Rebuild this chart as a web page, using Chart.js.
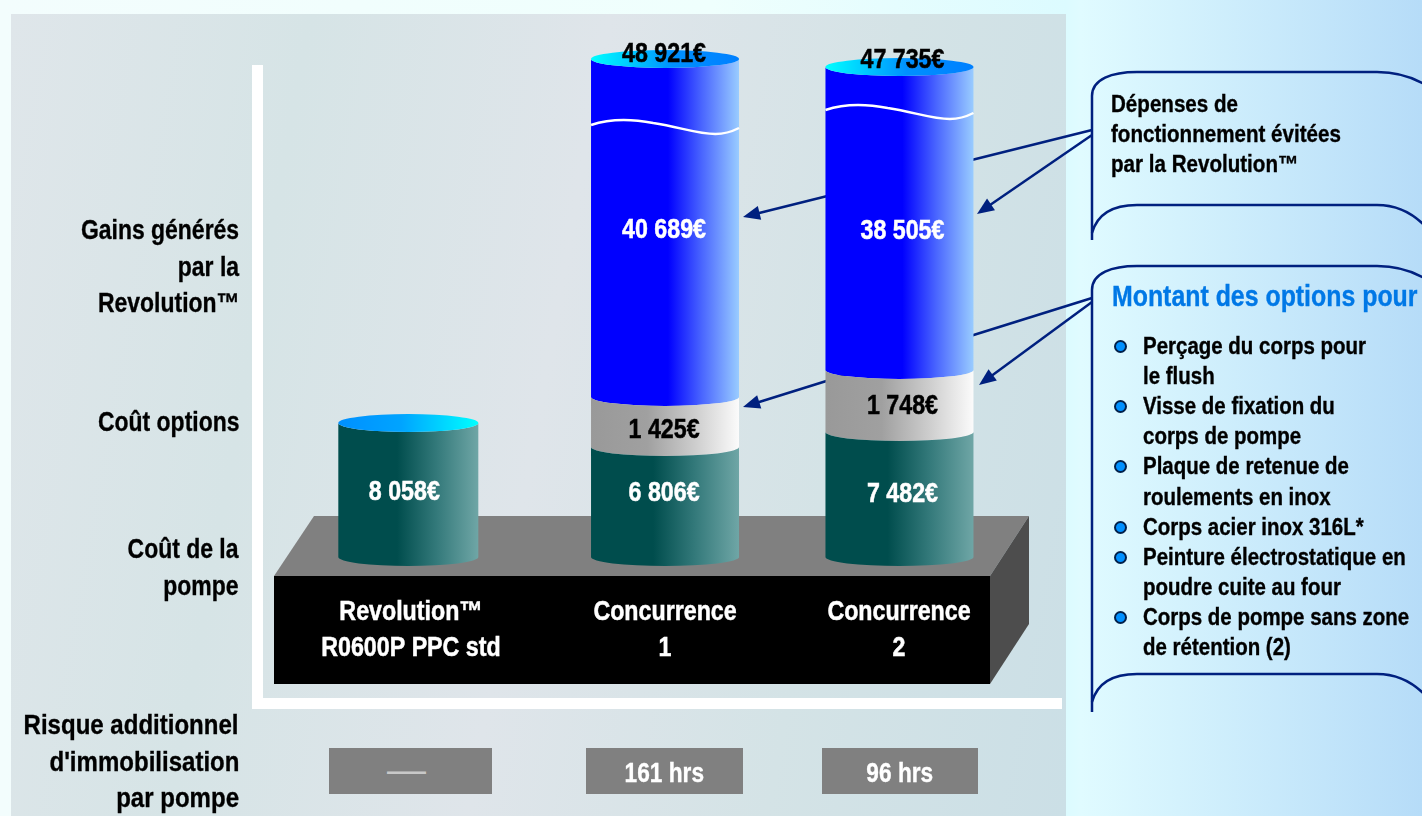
<!DOCTYPE html>
<html lang="fr">
<head>
<meta charset="utf-8">
<script src="https://cdn.jsdelivr.net/npm/chart.js@4"></script>
<style>
html,body{margin:0;padding:0;width:1422px;height:816px;overflow:hidden;background:linear-gradient(90deg,#f3fdfd 0%,#effffd 50%,#dcfbff 75%,#e0fbff 76%,#b6dcf8 100%);}
#panel{position:absolute;left:11px;top:14px;width:1055px;height:802px;background:linear-gradient(100deg,#dfe6ea 0%,#d6e4e6 25%,#dfe5ea 50%,#d4e3e6 75%,#cbdfe6 100%);}
canvas{position:absolute;left:0;top:0;}
.t{position:absolute;white-space:nowrap;font-weight:bold;font-family:"Liberation Sans",sans-serif;-webkit-text-stroke:.35px currentColor;}
.box{position:absolute;background:#808080;color:#fff;text-align:center;font:bold 27px/50px "Liberation Sans",sans-serif;-webkit-text-stroke:.35px currentColor;}
.box span{display:inline-block;transform:scaleX(.84);}
</style>
</head>
<body>
<div id="panel"></div>
<canvas id="c" width="1422" height="816"></canvas>
<script>
const categories = [["Revolution™","R0600P PPC std"],["Concurrence","1"],["Concurrence","2"]];
const pumpCost   = [8058, 6806, 7482];
const optionCost = [null, 1425, 1748];
const gains      = [null, 40689, 38505];
const totals     = [null, 48921, 47735];
const downtime   = ["—", "161 hrs", "96 hrs"];
const rowLabels  = [
  {lines:["Gains générés","par la","Revolution™"], y:231, k:.85},
  {lines:["Coût options"], y:423, k:.85},
  {lines:["Coût de la","pompe"], y:550, k:.85},
  {lines:["Risque additionnel","d'immobilisation","par pompe"], y:726, k:.89}
];
const note1 = ["Dépenses de","fonctionnement évitées","par la Revolution™"];
const note2Title = "Montant des options pour";
const note2Items = [["Perçage du corps pour","le flush"],["Visse de fixation du","corps de pompe"],["Plaque de retenue de","roulements en inox"],["Corps acier inox 316L*"],["Peinture électrostatique en","poudre cuite au four"],["Corps de pompe sans zone","de rétention (2)"]];

// The source chart has a broken value axis: [value, fraction of axis height]
const axisBreaks = [[-8800,0],[0,.2306],[6806,.4044],[7482,.4281],[8058,.4423],[8231,.4834],[9230,.5261],[47735,1.0047],[48921,1.0174]];
const categoryCentres = [.1882,.5075,.7991];
const tickCentres = [.1915,.5075,.7985];
const cylinderWidths = [140,148,148];
const CONDENSE = .86;

class BrokenLinearScale extends Chart.LinearScale {
  getPixelForValue(v){
    const b=axisBreaks; let i=0;
    while(i<b.length-2 && v>b[i+1][0]) i++;
    const f=b[i][1]+(v-b[i][0])*(b[i+1][1]-b[i][1])/(b[i+1][0]-b[i][0]);
    return this.bottom-f*(this.bottom-this.top);
  }
  getValueForPixel(p){
    const f=(this.bottom-p)/(this.bottom-this.top), b=axisBreaks; let i=0;
    while(i<b.length-2 && f>b[i+1][1]) i++;
    return b[i][0]+(f-b[i][1])*(b[i+1][0]-b[i][0])/(b[i+1][1]-b[i][1]);
  }
}
BrokenLinearScale.id='brokenLinear';
BrokenLinearScale.defaults=Chart.LinearScale.defaults;
class PlacedCategoryScale extends Chart.CategoryScale {
  getPixelForValue(v){ return this.left+categoryCentres[v]*this.width; }
  getPixelForTick(i){ return this.left+tickCentres[i]*this.width; }
  _computeLabelArea(){ return undefined; }
  _computeLabelItems(area){
    const items=super._computeLabelItems(area);
    items.forEach(it=>{it.options.translation[0]/=CONDENSE;});
    return items;
  }
  drawLabels(area){
    const c=this.ctx;
    c.save();c.scale(CONDENSE,1);
    super.drawLabels(area);
    c.restore();
  }
}
PlacedCategoryScale.id='placedCategory';
PlacedCategoryScale.defaults=Chart.CategoryScale.defaults;
Chart.register(BrokenLinearScale,PlacedCategoryScale);

const RY=9;
Chart.BarElement.prototype.draw=function(ctx){
  const w=cylinderWidths[this.cylIndex], x0=this.x-w/2, x1=this.x+w/2, top=this.y, bot=this.base;
  const g=ctx.createLinearGradient(x0,0,x1,0);
  (this.cylStops||[]).forEach(s=>g.addColorStop(s[0],s[1]));
  ctx.save();
  ctx.beginPath();
  ctx.moveTo(x0,top);
  ctx.ellipse(this.x,top,w/2,RY,0,Math.PI,0,true);
  ctx.lineTo(x1,bot);
  ctx.ellipse(this.x,bot,w/2,RY,0,0,Math.PI,false);
  ctx.closePath();
  ctx.fillStyle=g;ctx.fill();
  ctx.restore();
};

const NAVY='#00207f';
function arrow(ctx,x0,y0,x1,y1){
  const a=Math.atan2(y1-y0,x1-x0),L=17,W=7;
  ctx.strokeStyle=NAVY;ctx.lineWidth=2.5;ctx.fillStyle=NAVY;
  ctx.beginPath();ctx.moveTo(x0,y0);ctx.lineTo(x1-Math.cos(a)*L*.8,y1-Math.sin(a)*L*.8);ctx.stroke();
  ctx.beginPath();ctx.moveTo(x1,y1);
  ctx.lineTo(x1-Math.cos(a)*L-Math.sin(a)*W,y1-Math.sin(a)*L+Math.cos(a)*W);
  ctx.lineTo(x1-Math.cos(a)*L+Math.sin(a)*W,y1-Math.sin(a)*L-Math.cos(a)*W);
  ctx.closePath();ctx.fill();
}
function callout(ctx,top,leftEnd,bTop,bLeft){
  ctx.strokeStyle=NAVY;ctx.lineWidth=2.5;
  ctx.beginPath();
  ctx.moveTo(1092,leftEnd);ctx.lineTo(1092,top+24);
  ctx.bezierCurveTo(1092,top+7,1112,top,1137,top);
  ctx.lineTo(1377,top);
  ctx.bezierCurveTo(1395,top,1410,top+4,1424,top+12);
  ctx.stroke();
  ctx.beginPath();
  ctx.moveTo(1092,bLeft);
  ctx.bezierCurveTo(1097,bTop+10,1112,bTop,1137,bTop);
  ctx.lineTo(1377,bTop);
  ctx.bezierCurveTo(1395,bTop,1410,bTop+6,1424,bTop+20);
  ctx.stroke();
}
function wave(ctx,x,w,y){
  ctx.save();ctx.strokeStyle='#fff';ctx.lineWidth=2.5;ctx.beginPath();
  ctx.moveTo(x,y);
  ctx.bezierCurveTo(x+.12*w,y-6,x+.28*w,y-6,x+.42*w,y-2);
  ctx.bezierCurveTo(x+.6*w,y+2,x+.72*w,y+9,x+.84*w,y+9);
  ctx.bezierCurveTo(x+.91*w,y+9,x+.96*w,y+6,x+w,y+3);
  ctx.stroke();ctx.restore();
}
const euro=v=>String(v).replace(/\B(?=(\d{3})+$)/g,' ')+'€';
const valueFont='bold 27px "Liberation Sans",sans-serif';

const cylinderPlugin={
  id:'cylinders',
  afterDatasetsUpdate(chart){
    chart.data.datasets.forEach((d,k)=>{
      chart.getDatasetMeta(k).data.forEach((el,i)=>{el.cylIndex=i;el.cylStops=d.cylStops;});
    });
  },
  beforeDraw(chart){
    const c=chart.ctx;
    c.save();
    c.fillStyle='#808080';c.beginPath();c.moveTo(274,576);c.lineTo(314,516);c.lineTo(1029,516);c.lineTo(990,576);c.closePath();c.fill();
    c.fillStyle='#4d4d4d';c.beginPath();c.moveTo(990,576);c.lineTo(1029,516);c.lineTo(1029,624);c.lineTo(990,684);c.closePath();c.fill();
    c.fillStyle='#000';c.fillRect(274,576,716,108);
    callout(c,72,240,205,233);
    callout(c,266,712,674,702);
    c.restore();
  },
  beforeDatasetsDraw(chart){
    const c=chart.ctx;
    c.save();
    arrow(c,1092,130,743,217);
    arrow(c,1092,135,977,214);
    arrow(c,1092,298,743,407);
    arrow(c,1092,302,979,385);
    c.restore();
  },
  afterDatasetsDraw(chart){
    const c=chart.ctx, metas=[0,1,2].map(k=>chart.getDatasetMeta(k));
    c.save();
    categories.forEach((_,i)=>{
      const top=gains[i]!==null?metas[2].data[i]:metas[0].data[i];
      const w=cylinderWidths[i], x0=top.x-w/2;
      const g=c.createLinearGradient(x0,0,x0+w,0);
      if(i===0){g.addColorStop(0,'#0090ff');g.addColorStop(.45,'#00a4ff');g.addColorStop(1,'#00ffff');}
      else{g.addColorStop(0,'#00ffff');g.addColorStop(.55,'#0090ff');g.addColorStop(1,'#0080ff');}
      c.fillStyle=g;c.beginPath();c.ellipse(top.x,top.y,w/2,RY,0,0,Math.PI*2);c.fill();
    });
    wave(c,metas[2].data[1].x-74,148,125);
    wave(c,metas[2].data[2].x-74,148,110);
    c.font=valueFont;c.textAlign='center';c.textBaseline='middle';c.lineWidth=.5;
    const put=(txt,col,x,y)=>{c.save();c.translate(x,y);c.scale(CONDENSE,1);c.fillStyle=col;c.strokeStyle=col;c.fillText(txt,0,0);c.strokeText(txt,0,0);c.restore();};
    const nudgeX=[-4,-1,3];
    const pumpNudge=[3,-8,0], optNudge=[0,9,6], gainNudge=[0,3,13], totalNudge=[0,-4,-6];
    categories.forEach((_,i)=>{
      const cx=metas[0].data[i].x+nudgeX[i];
      put(euro(pumpCost[i]),'#fff',cx,(metas[0].data[i].y+metas[0].data[i].base)/2+pumpNudge[i]);
      if(optionCost[i]!==null){
        const o=metas[1].data[i], g=metas[2].data[i];
        put(euro(optionCost[i]),'#000',cx,(o.y+o.base)/2+optNudge[i]);
        put(euro(gains[i]),'#fff',cx,(g.y+g.base)/2+gainNudge[i]);
        put(euro(totals[i]),'#000',cx,g.y+totalNudge[i]);
      }
    });
    c.restore();
  }
};

new Chart(document.getElementById('c'),{
  type:'bar',
  data:{labels:categories,datasets:[
    {label:'Coût de la pompe',data:pumpCost,barThickness:148,clip:false,
     cylStops:[[0,'#004d4d'],[.42,'#004d4d'],[.7,'#33797a'],[1,'#6fa6a6']]},
    {label:'Coût options',data:optionCost,barThickness:148,clip:false,
     cylStops:[[0,'#999999'],[.38,'#a0a0a0'],[.7,'#cdcdcd'],[1,'#fbfbfb']]},
    {label:'Gains générés',data:gains,barThickness:148,clip:false,
     cylStops:[[0,'#0000ff'],[.52,'#0000ff'],[.75,'#4a66ff'],[1,'#99ccff']]}
  ]},
  options:{
    responsive:false,animation:false,
    layout:{padding:{left:257,top:70,right:361,bottom:0}},
    plugins:{legend:{display:false},tooltip:{enabled:false},title:{display:false}},
    scales:{
      x:{type:'placedCategory',stacked:true,position:'bottom',
         grid:{display:false,drawTicks:false},
         border:{display:true,color:'#ffffff',width:11},
         afterFit:s=>{s.height=113;},
         ticks:{color:'#ffffff',padding:-108,autoSkip:false,maxRotation:0,minRotation:0,
                textStrokeColor:'#ffffff',textStrokeWidth:.5,
                font:{family:'"Liberation Sans",sans-serif',size:27,weight:'bold',lineHeight:1.33}}},
      y:{type:'brokenLinear',stacked:true,min:-8800,max:49000,
         grid:{display:false,drawTicks:false},
         border:{display:true,color:'#ffffff',width:11},
         afterFit:s=>{s.width=0;},
         ticks:{display:false}}
    }
  },
  plugins:[cylinderPlugin]
});

// DOM text
function addText(txt,opts){
  const d=document.createElement('div');d.className='t';d.textContent=txt;
  const lh=opts.size*1.3;
  d.style.fontSize=opts.size+'px';d.style.lineHeight=lh+'px';
  d.style.top=(opts.cy-lh/2)+'px';
  d.style.color=opts.color||'#000';
  d.style.transform='scaleX('+opts.k+')';
  if(opts.right!==undefined){d.style.right=(1422-opts.right)+'px';d.style.transformOrigin='right center';}
  else{d.style.left=opts.left+'px';d.style.transformOrigin='left center';}
  document.body.appendChild(d);
}
rowLabels.forEach(r=>r.lines.forEach((l,i)=>addText(l,{size:27,k:r.k,right:239,cy:r.y+i*36.5})));
note1.forEach((l,i)=>addText(l,{size:23,k:.895,left:1111,cy:105+i*30}));
addText(note2Title,{size:29,k:.858,left:1112,cy:297,color:'#0078e6'});
let line=0;
note2Items.forEach(item=>{
  const cy0=346+line*30.1;
  const dot=document.createElement('div');
  dot.style.cssText='position:absolute;box-sizing:border-box;width:13px;height:13px;border-radius:50%;background:#0090ff;border:2px solid #00204a;left:1114px;top:'+(cy0-6)+'px';
  document.body.appendChild(dot);
  item.forEach(l=>{addText(l,{size:23,k:.89,left:1143,cy:347+line*30.1});line++;});
});
const boxes=[[329,163],[586,157],[822,156]];
downtime.forEach((t,i)=>{
  const b=document.createElement('div');b.className='box';
  const s=document.createElement('span');s.textContent=t;b.appendChild(s);
  b.style.left=boxes[i][0]+'px';b.style.width=boxes[i][1]+'px';b.style.top='748px';b.style.height='46px';
  if(i===0){b.style.color='#c8c8c8';b.style.webkitTextStroke='0';s.style.fontWeight='normal';s.style.fontSize='39px';s.style.transform='translateX(-4px)';s.style.lineHeight='44px';}
  document.body.appendChild(b);
});
</script>
</body>
</html>
